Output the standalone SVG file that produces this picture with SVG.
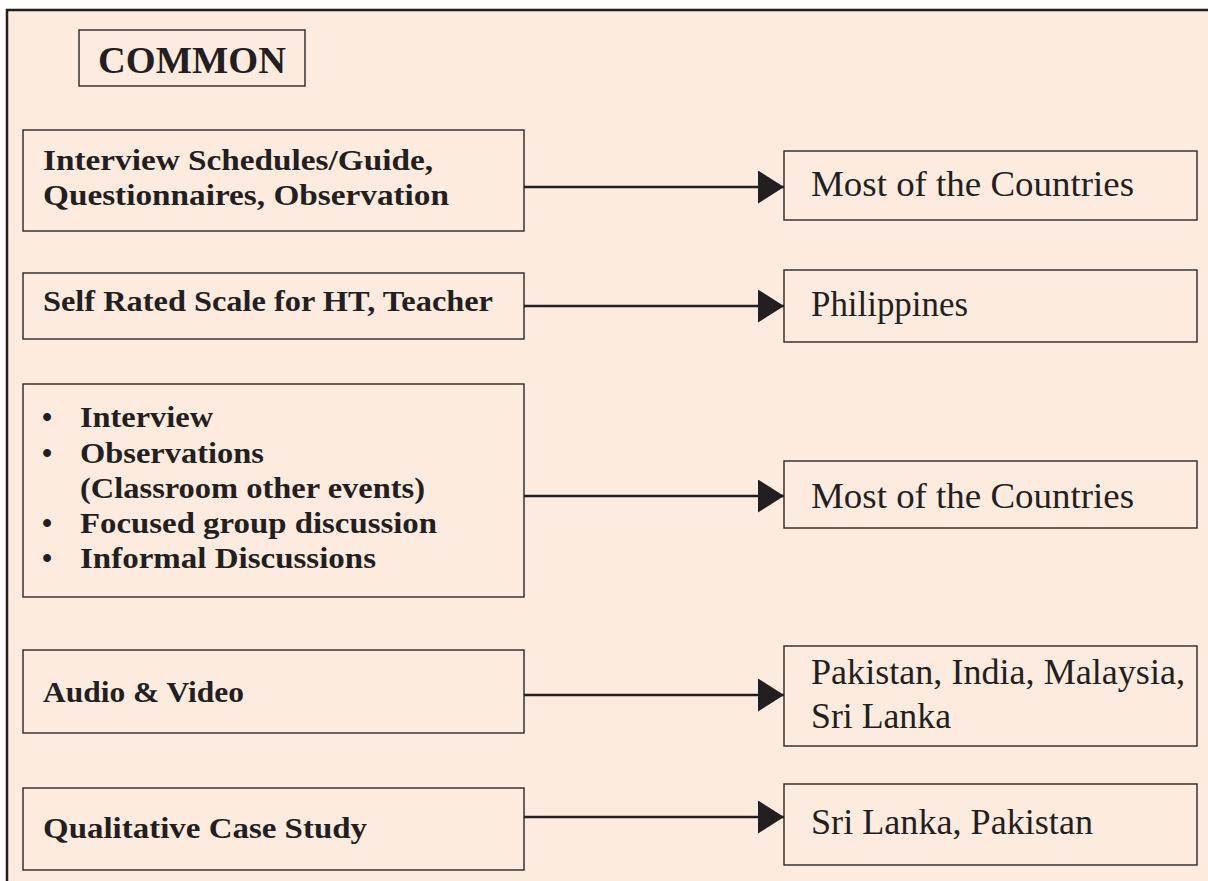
<svg xmlns="http://www.w3.org/2000/svg" width="1208" height="881" viewBox="0 0 1208 881">
  <defs>
    <style>
      .panel { fill: #fdebdf; }
      .frame { fill: none; stroke: #231f20; stroke-width: 2.5; }
      .box { fill: none; stroke: #2b2728; stroke-width: 1.4; }
      .src { font-family: "Liberation Serif", "Times New Roman", serif; font-weight: bold; font-size: 29px; fill: #231f20; }
      .title { font-family: "Liberation Serif", "Times New Roman", serif; font-weight: bold; font-size: 38px; fill: #231f20; }
      .dst { font-family: "Liberation Serif", "Times New Roman", serif; font-size: 35px; fill: #231f20; }
      .link { stroke: #231f20; stroke-width: 2.6; fill: none; marker-end: url(#head); }
    </style>
    <marker id="head" markerUnits="userSpaceOnUse" markerWidth="27" markerHeight="34" refX="26" refY="16.5" orient="auto">
      <path d="M0,0 L26,16.5 L0,33 Z" fill="#231f20"/>
    </marker>
  </defs>

  <!-- page background and frame -->
  <rect x="0" y="0" width="1208" height="881" fill="#ffffff"/>
  <rect class="panel" x="7" y="10" width="1201" height="871"/>
  <path class="frame" d="M7,881 V10 H1208"/>

  <!-- heading -->
  <g id="common">
    <rect class="box" x="79" y="30" width="226" height="56"/>
    <text class="title" x="98" y="73" textLength="188" lengthAdjust="spacingAndGlyphs">COMMON</text>
  </g>

  <!-- tools (left column) -->
  <g id="tool-interview-schedules">
    <rect class="box" x="23" y="130" width="501" height="101"/>
    <text class="src" x="43" y="170" textLength="390" lengthAdjust="spacingAndGlyphs">Interview Schedules/Guide,</text>
    <text class="src" x="43" y="205" textLength="406" lengthAdjust="spacingAndGlyphs">Questionnaires, Observation</text>
  </g>

  <g id="tool-self-rated">
    <rect class="box" x="23" y="273" width="501" height="66"/>
    <text class="src" x="43" y="311" textLength="450" lengthAdjust="spacingAndGlyphs">Self Rated Scale for HT, Teacher</text>
  </g>

  <g id="tool-methods">
    <rect class="box" x="23" y="384" width="501" height="213"/>
    <text class="src" x="42" y="427">•</text>
    <text class="src" x="80" y="427" textLength="133" lengthAdjust="spacingAndGlyphs">Interview</text>
    <text class="src" x="42" y="463">•</text>
    <text class="src" x="80" y="463" textLength="184" lengthAdjust="spacingAndGlyphs">Observations</text>
    <text class="src" x="80" y="498" textLength="345" lengthAdjust="spacingAndGlyphs">(Classroom other events)</text>
    <text class="src" x="42" y="533">•</text>
    <text class="src" x="80" y="533" textLength="357" lengthAdjust="spacingAndGlyphs">Focused group discussion</text>
    <text class="src" x="42" y="568">•</text>
    <text class="src" x="80" y="568" textLength="296" lengthAdjust="spacingAndGlyphs">Informal Discussions</text>
  </g>

  <g id="tool-audio-video">
    <rect class="box" x="23" y="650" width="501" height="83"/>
    <text class="src" x="43" y="702" textLength="201" lengthAdjust="spacingAndGlyphs">Audio &amp; Video</text>
  </g>

  <g id="tool-case-study">
    <rect class="box" x="23" y="788" width="501" height="82"/>
    <text class="src" x="43" y="838" textLength="324" lengthAdjust="spacingAndGlyphs">Qualitative Case Study</text>
  </g>

  <!-- countries (right column) -->
  <g id="use-most-1">
    <rect class="box" x="784" y="151" width="413" height="69"/>
    <text class="dst" x="811" y="196" textLength="323" lengthAdjust="spacingAndGlyphs">Most of the Countries</text>
  </g>

  <g id="use-philippines">
    <rect class="box" x="784" y="270" width="413" height="72"/>
    <text class="dst" x="811" y="316" textLength="157" lengthAdjust="spacingAndGlyphs">Philippines</text>
  </g>

  <g id="use-most-2">
    <rect class="box" x="784" y="461" width="413" height="67"/>
    <text class="dst" x="811" y="508" textLength="323" lengthAdjust="spacingAndGlyphs">Most of the Countries</text>
  </g>

  <g id="use-south-asia">
    <rect class="box" x="784" y="646" width="413" height="100"/>
    <text class="dst" x="811" y="684" textLength="374" lengthAdjust="spacingAndGlyphs">Pakistan, India, Malaysia,</text>
    <text class="dst" x="811" y="728" textLength="140" lengthAdjust="spacingAndGlyphs">Sri Lanka</text>
  </g>

  <g id="use-srilanka-pakistan">
    <rect class="box" x="784" y="784" width="413" height="81"/>
    <text class="dst" x="811" y="834" textLength="282" lengthAdjust="spacingAndGlyphs">Sri Lanka, Pakistan</text>
  </g>

  <!-- connectors -->
  <g id="connectors">
    <line class="link" x1="524" y1="187" x2="784" y2="187"/>
    <line class="link" x1="524" y1="306" x2="784" y2="306"/>
    <line class="link" x1="524" y1="496" x2="784" y2="496"/>
    <line class="link" x1="524" y1="695" x2="784" y2="695"/>
    <line class="link" x1="524" y1="817" x2="784" y2="817"/>
  </g>
</svg>
